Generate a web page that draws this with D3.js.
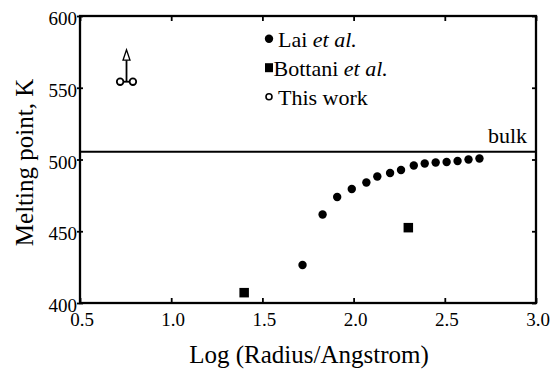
<!DOCTYPE html>
<html>
<head>
<meta charset="utf-8">
<script src="https://cdn.jsdelivr.net/npm/d3@7"></script>
<style>
  body { margin: 0; background: #fff; }
</style>
</head>
<body>
<div id="chart"></div>
<script>
// data
const xTicks = [0.5, 1.0, 1.5, 2.0, 2.5, 3.0];
const yTicks = [400, 450, 500, 550, 600];

const laiX = [1.72, 1.83, 1.91, 1.99, 2.07, 2.13, 2.20, 2.26, 2.33, 2.39, 2.45, 2.51, 2.57, 2.63, 2.69];
const laiY = [426.5, 461.7, 473.9, 479.4, 484.0, 488.2, 490.6, 492.7, 495.8, 497.2, 497.9, 498.3, 499.0, 500.0, 500.7];

const bottaniX = [1.40, 2.30];
const bottaniY = [407.2, 452.5];

const thisWorkX = [0.72, 0.79];
const thisWorkY = [554.2, 554.2];
const thisWorkArrowTo = 576.5;

const bulkMelt = 505.4;

const legendItems = [
  { name: "Lai", italic: "et al.", shape: "dot" },
  { name: "Bottani", italic: "et al.", shape: "square" },
  { name: "This work", italic: "", shape: "open" }
];

const FONT = "'Liberation Serif'";

const width = 556, height = 370;
const margin = { top: 16, right: 20, bottom: 67, left: 80 };
const innerW = width - margin.left - margin.right;
const innerH = height - margin.top - margin.bottom;

const svg = d3.select("#chart").append("svg")
  .attr("width", width)
  .attr("height", height);

const g = svg.append("g")
  .attr("transform", `translate(${margin.left},${margin.top})`);

const x = d3.scaleLinear().domain([0.5, 3.0]).range([0, innerW]);
const y = d3.scaleLinear().domain([400, 600]).range([innerH, 0]);

// ticks (inward on bottom/top/right, crossing on left)
g.append("g")
  .attr("transform", `translate(0,${innerH})`)
  .call(d3.axisBottom(x).tickValues(xTicks).tickSize(-5).tickFormat(d3.format(".1f")))
  .call(a => a.select(".domain").remove())
  .call(a => a.selectAll("line").attr("stroke-width", 1.8))
  .call(a => a.selectAll("text").attr("y", 23).attr("dy", 0).attr("dx", 1.5)
    .style("font-family", FONT).style("font-size", "19px"));

g.append("g")
  .call(d3.axisTop(x).tickValues(xTicks).tickSize(-5).tickFormat(""))
  .call(a => a.select(".domain").remove())
  .call(a => a.selectAll("line").attr("stroke-width", 1.8));

g.append("g")
  .call(d3.axisLeft(y).tickValues(yTicks).tickSize(3).tickFormat(d3.format("d")))
  .call(a => a.select(".domain").remove())
  .call(a => a.selectAll("line").attr("x2", -3).attr("x1", 3).attr("stroke-width", 1.8))
  .call(a => a.selectAll("text").attr("x", -3).attr("dy", 8.5)
    .style("font-family", FONT).style("font-size", "19px"));

g.append("g")
  .attr("transform", `translate(${innerW},0)`)
  .call(d3.axisRight(y).tickValues(yTicks).tickSize(-4).tickFormat(""))
  .call(a => a.select(".domain").remove())
  .call(a => a.selectAll("line").attr("stroke-width", 1.8));

// frame
g.append("rect")
  .attr("x", 0).attr("y", 0)
  .attr("width", innerW).attr("height", innerH)
  .attr("fill", "none")
  .attr("stroke", "#000")
  .attr("stroke-width", 2.3);

// bulk melting point
g.append("line")
  .attr("x1", 0).attr("x2", innerW)
  .attr("y1", y(bulkMelt)).attr("y2", y(bulkMelt))
  .attr("stroke", "#000")
  .attr("stroke-width", 2);

g.append("text")
  .attr("x", innerW - 9)
  .attr("y", y(bulkMelt) - 9)
  .attr("text-anchor", "end")
  .style("font-family", FONT)
  .style("font-size", "22px")
  .text("bulk");

// Lai et al.
g.append("g").selectAll("circle")
  .data(laiX.map((v, i) => [v, laiY[i]]))
  .join("circle")
  .attr("cx", d => x(d[0]))
  .attr("cy", d => y(d[1]))
  .attr("r", 4.2)
  .attr("fill", "#000");

// Bottani et al.
const sq = 9.5;
g.append("g").selectAll("rect")
  .data(bottaniX.map((v, i) => [v, bottaniY[i]]))
  .join("rect")
  .attr("x", d => x(d[0]) - sq / 2)
  .attr("y", d => y(d[1]) - sq / 2)
  .attr("width", sq).attr("height", sq)
  .attr("fill", "#000");

// This work: two open circles joined, with an upward arrow (lower bound)
const tw = g.append("g").attr("stroke", "#000").attr("stroke-width", 1.8).attr("fill", "none");
const midX = x((thisWorkX[0] + thisWorkX[1]) / 2);
const baseY = y(thisWorkY[0]);
const tipY = y(thisWorkArrowTo);
tw.append("line")
  .attr("x1", x(thisWorkX[0])).attr("x2", x(thisWorkX[1]))
  .attr("y1", baseY).attr("y2", baseY);
tw.append("line")
  .attr("x1", midX).attr("x2", midX)
  .attr("y1", baseY).attr("y2", tipY + 10);
tw.append("path")
  .attr("d", `M${midX},${tipY} L${midX - 3.5},${tipY + 10.5} L${midX + 3.5},${tipY + 10.5} Z`)
  .attr("fill", "#fff")
  .attr("stroke-width", 1.3);
tw.selectAll("circle")
  .data(thisWorkX.map((v, i) => [v, thisWorkY[i]]))
  .join("circle")
  .attr("cx", d => x(d[0]))
  .attr("cy", d => y(d[1]))
  .attr("r", 3.3)
  .attr("fill", "#fff");

// legend
const legend = svg.append("g").attr("transform", "translate(269,0)");
legendItems.forEach((item, i) => {
  const cy = 38.7 + i * 29;
  if (item.shape === "dot") {
    legend.append("circle").attr("cx", 0).attr("cy", cy).attr("r", 4.2).attr("fill", "#000");
  } else if (item.shape === "square") {
    legend.append("rect").attr("x", -4).attr("y", cy - 4.5).attr("width", 8).attr("height", 9).attr("fill", "#000");
  } else {
    legend.append("circle").attr("cx", 0).attr("cy", cy).attr("r", 3).attr("fill", "#fff")
      .attr("stroke", "#000").attr("stroke-width", 1.6);
  }
  const t = legend.append("text")
    .attr("x", item.shape === "square" ? 4.5 : 9)
    .attr("y", cy + 8)
    .style("font-family", FONT)
    .style("font-size", "22px");
  t.append("tspan").text(item.name);
  if (item.italic) {
    t.append("tspan").style("font-style", "italic").text(" " + item.italic);
  }
});

// axis titles
svg.append("text")
  .attr("x", margin.left + innerW / 2 + 1)
  .attr("y", 363)
  .attr("text-anchor", "middle")
  .style("font-family", FONT)
  .style("font-size", "25px")
  .text("Log (Radius/Angstrom)");

svg.append("text")
  .attr("transform", `translate(33,${162.5}) rotate(-90)`)
  .attr("text-anchor", "middle")
  .style("font-family", FONT)
  .style("font-size", "25px")
  .text("Melting point, K");
</script>
</body>
</html>
